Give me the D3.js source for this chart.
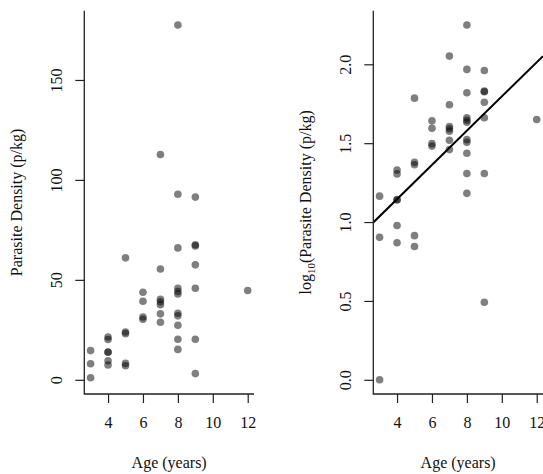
<!DOCTYPE html>
<html>
<head>
<meta charset="utf-8">
<script src="https://cdn.jsdelivr.net/npm/d3@7"></script>
<style>
  body { margin: 0; background: #fff; }
  svg { display: block; font-family: "Liberation Serif", "Times New Roman", serif; }
</style>
</head>
<body>
<svg id="chart" width="543" height="474"></svg>
<script>
// ages of the children (years)
const ages = [
    3, 3, 3,
    4, 4, 4, 4, 4, 4,
    5, 5, 5, 5, 5,
    6, 6, 6, 6,
    7, 7, 7, 7, 7, 7, 7,
    8, 8, 8, 8, 8, 8, 8, 8, 8, 8, 8,
    9, 9, 9, 9, 9, 9, 9,
    12
];

// parasite density (p/kg), same order as ages
const densities = [
    14.6, 8.0, 1,
    21.4, 20.2, 13.9, 13.8, 9.5, 7.4,
    61, 23.9, 23.1, 8.2, 7.0,
    43.8, 39.3, 31.4, 30.3,
    112.7, 55.4, 40.3, 39.0, 37.6, 33.0, 28.8,
    177.5, 92.8, 66, 45.8, 44.2, 42.9, 33.3, 32.0, 27.3, 20.3, 15.2,
    91.4, 67.6, 67.0, 57.5, 45.8, 20.3, 3.1,
    44.7
];

const xTicks = [4, 6, 8, 10, 12];
const leftYTicks = [0, 50, 100, 150];
const rightYTicks = [0, 0.5, 1.0, 1.5, 2.0];

// fitted line on the log scale
const fitIntercept = 0.711;
const fitSlope = 0.1085;

const svg = d3.select("#chart");
const plotTop = 10.8, plotBottom = 394;
const fontSize = 16;

const points = ages.map((a, i) => ({ age: a, dens: densities[i], logd: Math.log10(densities[i]) }));

// R style 4% padding around the data range
function padded(lo, hi) {
    const p = (hi - lo) * 0.04;
    return [lo - p, hi + p];
}

function drawPanel(opts) {
    const x = d3.scaleLinear().domain(padded(d3.min(ages), d3.max(ages))).range([opts.left, opts.right]);
    const y = d3.scaleLinear().domain(padded(opts.yMin, opts.yMax)).range([plotBottom, plotTop]);

    const g = svg.append("g");

    //clip for the points and the line
    const clipId = "clip" + opts.id;
    g.append("clipPath").attr("id", clipId)
        .append("rect")
        .attr("x", opts.left).attr("y", plotTop)
        .attr("width", opts.right - opts.left).attr("height", plotBottom - plotTop);

    // points
    g.append("g")
        .attr("clip-path", `url(#${clipId})`)
        .selectAll("circle")
        .data(points)
        .enter()
        .append("circle")
        .attr("cx", d => x(d.age))
        .attr("cy", d => y(opts.value(d)))
        .attr("r", 3.8)
        .attr("fill", "#000")
        .attr("fill-opacity", 0.5);

    // regression line
    if (opts.fit) {
        const [x0, x1] = x.domain();
        g.append("line")
            .attr("clip-path", `url(#${clipId})`)
            .attr("x1", x(x0)).attr("y1", y(fitIntercept + fitSlope * x0))
            .attr("x2", x(x1)).attr("y2", y(fitIntercept + fitSlope * x1))
            .attr("stroke", "#000")
            .attr("stroke-width", 2);
    }

    // L shaped box
    g.append("path")
        .attr("d", `M${opts.left},${plotTop}V${plotBottom}H${opts.right}`)
        .attr("fill", "none")
        .attr("stroke", "#222")
        .attr("stroke-width", 1.3);

    //x-axis
    const xAxis = g.append("g")
        .attr("transform", `translate(0, ${plotBottom})`)
        .call(d3.axisBottom(x).tickValues(xTicks).tickSize(9).tickPadding(14).tickFormat(d3.format("d")));
    xAxis.select(".domain").remove();

    //y-axis
    const yAxis = g.append("g")
        .attr("transform", `translate(${opts.left}, 0)`)
        .call(d3.axisLeft(y).tickValues(opts.yTicks).tickSize(9).tickFormat(opts.fmt));
    yAxis.select(".domain").remove();
    yAxis.selectAll(".tick text")
        .attr("x", null).attr("dy", null)
        .attr("text-anchor", "middle")
        .attr("transform", "translate(-22, 0) rotate(-90)");

    svg.selectAll(".tick line").attr("stroke", "#222").attr("stroke-width", 1.2);
    svg.selectAll(".tick text")
        .style("font-family", "Liberation Serif, Times New Roman, serif")
        .style("font-size", fontSize + "px")
        .attr("fill", "#111");

    // axis titles
    g.append("text")
        .attr("x", (opts.left + opts.right) / 2)
        .attr("y", 468)
        .attr("text-anchor", "middle")
        .style("font-size", fontSize + "px")
        .attr("fill", "#111")
        .text("Age (years)");

    const yTitle = g.append("text")
        .attr("transform", `translate(${opts.left - 62}, ${(plotTop + plotBottom) / 2}) rotate(-90)`)
        .attr("text-anchor", "middle")
        .style("font-size", fontSize + "px")
        .attr("fill", "#111");
    opts.title(yTitle);
}

drawPanel({
    id: "L", left: 84.3, right: 254,
    yMin: 0, yMax: d3.max(densities),
    value: d => d.dens,
    yTicks: leftYTicks, fmt: d3.format("d"),
    title: t => t.text("Parasite Density (p/kg)")
});

drawPanel({
    id: "R", left: 373.3, right: 543,
    yMin: 0, yMax: d3.max(points, d => d.logd),
    value: d => d.logd,
    yTicks: rightYTicks, fmt: d3.format(".1f"),
    fit: true,
    title: t => {
        t.append("tspan").text("log");
        t.append("tspan").attr("dy", 4).style("font-size", "11px").text("10");
        t.append("tspan").attr("dy", -4).text("(Parasite Density (p/kg)");
    }
});
</script>
</body>
</html>
